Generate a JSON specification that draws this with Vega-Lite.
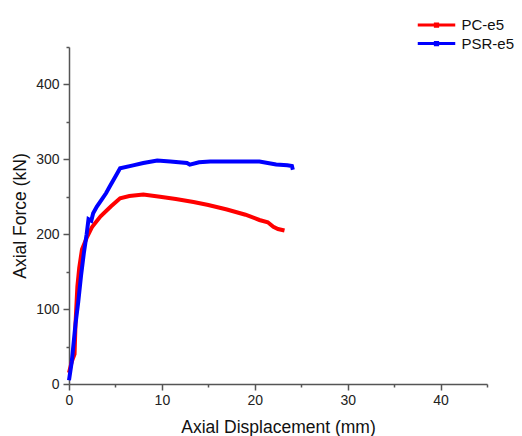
{
  "$schema": "https://vega.github.io/schema/vega-lite/v6.json",
  "width": 418,
  "height": 337,
  "autosize": {"type": "none"},
  "padding": {"left": 69, "top": 47, "right": 35, "bottom": 52},
  "background": "white",
  "config": {"view": {"stroke": null}, "font": "Liberation Sans"},
  "data": {"values": [
    {"s": "PC-e5", "d": 0.0, "f": 15},
    {"s": "PC-e5", "d": 0.3, "f": 30},
    {"s": "PC-e5", "d": 0.6, "f": 40},
    {"s": "PC-e5", "d": 0.7, "f": 80},
    {"s": "PC-e5", "d": 0.9, "f": 130},
    {"s": "PC-e5", "d": 1.1, "f": 155},
    {"s": "PC-e5", "d": 1.4, "f": 180},
    {"s": "PC-e5", "d": 1.9, "f": 195},
    {"s": "PC-e5", "d": 2.5, "f": 210},
    {"s": "PC-e5", "d": 3.4, "f": 224},
    {"s": "PC-e5", "d": 4.5, "f": 237},
    {"s": "PC-e5", "d": 5.5, "f": 248},
    {"s": "PC-e5", "d": 6.5, "f": 251},
    {"s": "PC-e5", "d": 8.0, "f": 253},
    {"s": "PC-e5", "d": 9.8, "f": 250},
    {"s": "PC-e5", "d": 11.5, "f": 247},
    {"s": "PC-e5", "d": 13.4, "f": 243},
    {"s": "PC-e5", "d": 15.0, "f": 239},
    {"s": "PC-e5", "d": 17.0, "f": 233},
    {"s": "PC-e5", "d": 19.0, "f": 226},
    {"s": "PC-e5", "d": 20.5, "f": 219},
    {"s": "PC-e5", "d": 21.4, "f": 216},
    {"s": "PC-e5", "d": 22.0, "f": 210},
    {"s": "PC-e5", "d": 22.5, "f": 207},
    {"s": "PC-e5", "d": 23.2, "f": 205},
    {"s": "PSR-e5", "d": 0.0, "f": 5},
    {"s": "PSR-e5", "d": 0.3, "f": 30},
    {"s": "PSR-e5", "d": 0.7, "f": 80},
    {"s": "PSR-e5", "d": 1.0, "f": 110},
    {"s": "PSR-e5", "d": 1.3, "f": 145},
    {"s": "PSR-e5", "d": 1.6, "f": 175},
    {"s": "PSR-e5", "d": 1.9, "f": 200},
    {"s": "PSR-e5", "d": 2.1, "f": 220},
    {"s": "PSR-e5", "d": 2.4, "f": 218},
    {"s": "PSR-e5", "d": 2.6, "f": 228},
    {"s": "PSR-e5", "d": 3.0, "f": 237},
    {"s": "PSR-e5", "d": 3.5, "f": 246},
    {"s": "PSR-e5", "d": 4.0, "f": 255},
    {"s": "PSR-e5", "d": 4.4, "f": 264},
    {"s": "PSR-e5", "d": 5.0, "f": 277},
    {"s": "PSR-e5", "d": 5.5, "f": 288},
    {"s": "PSR-e5", "d": 6.9, "f": 292},
    {"s": "PSR-e5", "d": 8.0, "f": 295},
    {"s": "PSR-e5", "d": 9.5, "f": 298.5},
    {"s": "PSR-e5", "d": 10.9, "f": 297},
    {"s": "PSR-e5", "d": 12.7, "f": 295},
    {"s": "PSR-e5", "d": 13.0, "f": 293},
    {"s": "PSR-e5", "d": 14.0, "f": 296},
    {"s": "PSR-e5", "d": 15.2, "f": 297},
    {"s": "PSR-e5", "d": 17.0, "f": 297},
    {"s": "PSR-e5", "d": 20.5, "f": 297},
    {"s": "PSR-e5", "d": 22.3, "f": 293},
    {"s": "PSR-e5", "d": 23.5, "f": 292},
    {"s": "PSR-e5", "d": 24.0, "f": 291},
    {"s": "PSR-e5", "d": 24.1, "f": 286}
  ]},
  "mark": {"type": "line", "strokeWidth": 4},
  "encoding": {
    "x": {
      "field": "d", "type": "quantitative",
      "scale": {"domain": [0, 45], "nice": false, "zero": false},
      "axis": {
        "title": "Axial Displacement (mm)",
        "values": [0, 5, 10, 15, 20, 25, 30, 35, 40, 45],
        "labelExpr": "datum.value % 10 === 0 ? datum.label : ''",
        "labelFlush": false,
        "grid": false,
        "domainColor": "#555555", "domainWidth": 1.5,
        "tickColor": "#555555", "tickWidth": 1.5,
        "tickSize": {"condition": {"test": "datum.value % 10 !== 0", "value": 3}, "value": 6},
        "labelFontSize": 14, "labelColor": "#222222", "labelPadding": 3,
        "titleFontSize": 17.5, "titleFontWeight": "normal", "titleColor": "#111111", "titlePadding": 11
      }
    },
    "y": {
      "field": "f", "type": "quantitative",
      "scale": {"domain": [0, 450], "nice": false},
      "axis": {
        "title": "Axial Force (kN)",
        "values": [0, 50, 100, 150, 200, 250, 300, 350, 400, 450],
        "labelExpr": "datum.value % 100 === 0 ? datum.label : ''",
        "labelFlush": false,
        "grid": false,
        "domainColor": "#555555", "domainWidth": 1.5,
        "tickColor": "#555555", "tickWidth": 1.5,
        "tickSize": {"condition": {"test": "datum.value % 100 !== 0", "value": 3}, "value": 6},
        "labelFontSize": 14, "labelColor": "#222222", "labelPadding": 4,
        "titleFontSize": 17.5, "titleFontWeight": "normal", "titleColor": "#111111", "titlePadding": 6
      }
    },
    "color": {
      "field": "s", "type": "nominal",
      "scale": {"domain": ["PC-e5", "PSR-e5"], "range": ["#ff0000", "#0000ff"]},
      "legend": {
        "title": null,
        "orient": "none",
        "legendX": 358.5,
        "legendY": -31,
        "symbolType": "M-2.5,0H2.5M-0.15,-0.15H0.15V0.15H-0.15Z",
        "symbolSize": 225,
        "symbolStrokeWidth": 3,
        "labelFontSize": 15,
        "labelColor": "#111111",
        "labelOffset": 16,
        "rowPadding": 1.5,
        "padding": 0
      }
    }
  }
}
